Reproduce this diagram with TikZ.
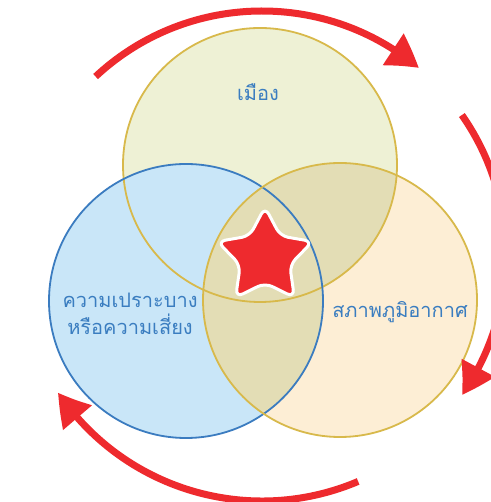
\documentclass[tikz,border=0pt]{standalone}
\usepackage{fontspec}
\newfontfamily\thaifont[Script=Thai]{Loma}
\usetikzlibrary{arrows.meta,bending}

\definecolor{cityfill}{HTML}{EEF1D5}
\definecolor{riskfill}{HTML}{C9E6F8}
\definecolor{climfill}{HTML}{FDEED5}
\definecolor{overlap}{HTML}{E3DDB5}
\definecolor{goldline}{HTML}{D8B94B}
\definecolor{blueline}{HTML}{3B7CC0}
\definecolor{labelblue}{HTML}{3A7DC0}
\definecolor{cyclered}{HTML}{EE2A2E}

\tikzset{
  setline/.style={line width=1.8pt},
  setlabel/.style={font=\thaifont\fontsize{20}{27}\selectfont, text=labelblue, align=center, inner sep=0pt},
  cyclearrow/.style={draw=cyclered, line width=7pt,
    -{Triangle[length=32pt,width=36pt,bend]}},
  starshape/.style={fill=cyclered, draw=white, line width=3pt, rounded corners=8pt, line join=round},
}

\begin{document}
\begin{tikzpicture}[x=1pt,y=1pt]
  \useasboundingbox (0,0) rectangle (490,502);
  \fill[white] (0,0) rectangle (490,502);

  % circle centres and common radius
  \def\rad{137}
  \coordinate (city) at (260,337);
  \coordinate (risk) at (186,201);
  \coordinate (clim) at (340,202);
  \coordinate (hub)  at (262,247);
  \coordinate (starc) at (265,245);

  % fills
  \fill[cityfill] (city) circle (\rad);
  \fill[riskfill] (risk) circle (\rad);
  \fill[climfill] (clim) circle (\rad);
  \begin{scope}
    \clip (clim) circle (\rad);
    \fill[overlap] (city) circle (\rad);
    \fill[overlap] (risk) circle (\rad);
  \end{scope}

  % outlines
  \draw[setline, goldline] (city) circle (\rad);
  \draw[setline, blueline] (risk) circle (\rad);
  \draw[setline, goldline] (clim) circle (\rad);

  % five-pointed star in the common region
  \begin{scope}[shift={(starc)}]
    \draw[starshape] (90:50) -- (126:26) -- (162:50) -- (198:26) -- (234:50)
      -- (270:26) -- (306:50) -- (342:26) -- (18:50) -- (54:26) -- cycle;
  \end{scope}

  % set labels
  \node (citylabel) [setlabel] at (258,410) {เมือง};
  \node (risklabel) [setlabel] at (130,188) {ความเปราะบาง\\หรือความเสี่ยง};
  \node (climlabel) [setlabel] at (400,190) {สภาพภูมิอากาศ};

  % cycle arrows around the diagram
  \draw[cyclearrow] ([shift={(133:244)}]hub) arc[start angle=133, end angle=50, radius=244];
  \draw[cyclearrow] ([shift={(35:244)}]hub) arc[start angle=35, end angle=-35, radius=244];
  \draw[cyclearrow] ([shift={(-67:246)}]hub) arc[start angle=-67, end angle=-146, radius=246];
\end{tikzpicture}
\end{document}
